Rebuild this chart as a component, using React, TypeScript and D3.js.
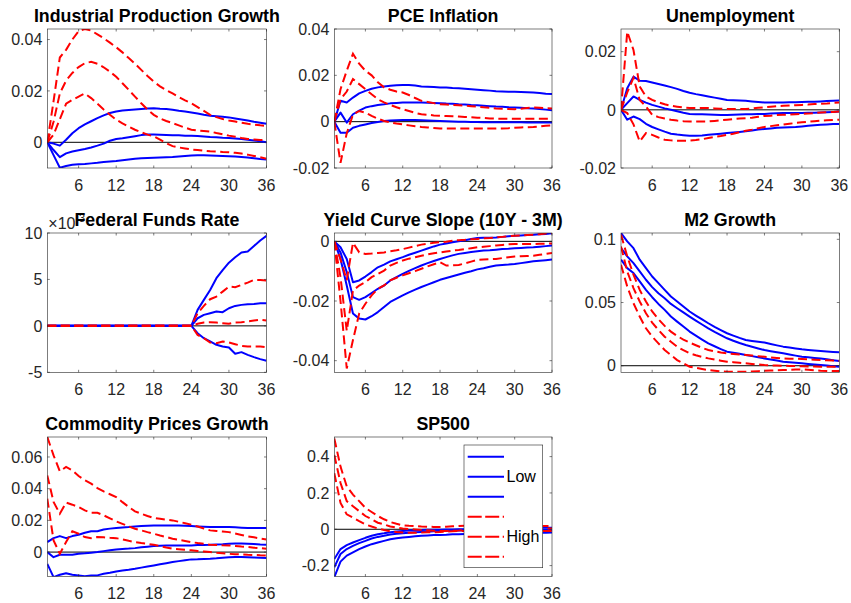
import React from "react";
import * as d3 from "d3";

// ---------- DATA ----------
const horizons = [1,2,3,4,5,6,7,8,9,10,11,12,13,14,15,16,17,18,19,20,21,22,23,24,25,26,27,28,29,30,31,32,33,34,35,36];
const xTicks = [6, 12, 18, 24, 30, 36];
const legendLabels = ["", "Low", "", "", "High", ""];

// Industrial Production Growth
const ipLowUpper = [0,-0.0005,-0.0013,0.001,0.0035,0.0055,0.007,0.0082,0.0094,0.0105,0.0114,0.012,0.0124,0.0126,0.0128,0.013,0.0132,0.0133,0.0131,0.013,0.0127,0.0123,0.012,0.0116,0.0112,0.0107,0.0103,0.0101,0.0099,0.0097,0.0093,0.0089,0.0085,0.008,0.0076,0.0072];
const ipLowMid = [0,-0.003,-0.0058,-0.0043,-0.0036,-0.0031,-0.0026,-0.002,-0.0013,-0.0005,0.0006,0.0013,0.0016,0.002,0.0024,0.0028,0.003,0.003,0.0029,0.0028,0.0027,0.0027,0.0026,0.0026,0.0025,0.0023,0.0021,0.002,0.0018,0.0017,0.0015,0.0013,0.001,0.0007,0.0004,0];
const ipLowLower = [0,-0.005,-0.0099,-0.0092,-0.0087,-0.0085,-0.0084,-0.0082,-0.008,-0.0077,-0.0075,-0.0073,-0.007,-0.0067,-0.0064,-0.0062,-0.0061,-0.006,-0.0059,-0.0058,-0.0057,-0.0055,-0.0053,-0.0051,-0.005,-0.005,-0.0051,-0.0052,-0.0053,-0.0054,-0.0055,-0.0057,-0.0059,-0.0062,-0.0065,-0.0067];
const ipHighUpper = [0,0.016,0.033,0.036,0.04,0.0433,0.0441,0.0435,0.042,0.0405,0.0388,0.037,0.035,0.0328,0.0306,0.0282,0.0258,0.0236,0.0218,0.0203,0.019,0.0176,0.0163,0.0152,0.0137,0.0122,0.0107,0.0098,0.0091,0.0085,0.0081,0.0076,0.0072,0.0069,0.0066,0.0064];
const ipHighMid = [0,0.008,0.019,0.024,0.027,0.0293,0.0308,0.0313,0.0306,0.0292,0.0275,0.0255,0.023,0.0204,0.0178,0.0152,0.0128,0.0107,0.0093,0.0083,0.0075,0.0066,0.0057,0.0049,0.0046,0.0044,0.0042,0.0036,0.0031,0.0026,0.0022,0.0017,0.0013,0.0011,0.0009,0.0008];
const ipHighLower = [0,0.003,0.009,0.015,0.0165,0.0178,0.019,0.0172,0.015,0.0128,0.0107,0.0088,0.0074,0.0061,0.0049,0.0039,0.003,0.0023,0.001,-0.0003,-0.0015,-0.002,-0.0024,-0.0028,-0.003,-0.0033,-0.0035,-0.0036,-0.0038,-0.0039,-0.0041,-0.0044,-0.0048,-0.0053,-0.0058,-0.0064];

// PCE Inflation
const pceLowUpper = [0,0.009,0.0083,0.0104,0.0122,0.0133,0.0142,0.0148,0.0152,0.0155,0.0157,0.0158,0.0158,0.0156,0.0152,0.0151,0.015,0.0148,0.0147,0.0145,0.0144,0.0142,0.014,0.0138,0.0136,0.0134,0.0131,0.013,0.0129,0.0129,0.0128,0.0127,0.0126,0.0124,0.0121,0.0119];
const pceLowMid = [0,0.0039,-0.0004,0.0032,0.0048,0.0061,0.0067,0.0072,0.0075,0.0079,0.0081,0.0083,0.0083,0.0083,0.0083,0.0082,0.0081,0.008,0.0078,0.0077,0.0075,0.0074,0.0072,0.0071,0.0069,0.0067,0.0065,0.0064,0.0062,0.0061,0.006,0.0058,0.0057,0.0055,0.0052,0.0049];
const pceLowLower = [0,-0.0048,-0.0048,-0.0026,-0.0018,-0.0012,-0.0006,-0.0001,0.0003,0.0005,0.0006,0.0007,0.0007,0.0007,0.0006,0.0005,0.0004,0.0003,0.0002,0.0001,0,0,-0.0001,-0.0001,-0.0002,-0.0002,-0.0003,-0.0003,-0.0003,-0.0003,-0.0003,-0.0004,-0.0004,-0.0004,-0.0004,-0.0004];
const pceHighUpper = [0,0.014,0.022,0.0293,0.025,0.022,0.02,0.017,0.0148,0.0138,0.013,0.0126,0.0115,0.0102,0.009,0.0085,0.008,0.0075,0.0074,0.0072,0.0071,0.0069,0.0067,0.0065,0.0062,0.006,0.0057,0.0056,0.0055,0.0054,0.0056,0.0059,0.0061,0.006,0.0058,0.0057];
const pceHighMid = [0,0.0097,0.013,0.0184,0.0162,0.014,0.0118,0.0097,0.0083,0.0072,0.0062,0.0054,0.0046,0.0038,0.0032,0.003,0.0027,0.0025,0.0024,0.0023,0.0022,0.002,0.0019,0.0017,0.0016,0.0014,0.0013,0.0013,0.0013,0.0013,0.0013,0.0013,0.0013,0.0013,0.0013,0.0013];
const pceHighLower = [0,-0.0178,-0.005,0.003,0.0046,0.0039,0.0025,0.0013,0.0003,-0.0003,-0.0008,-0.0012,-0.0016,-0.002,-0.0023,-0.0025,-0.0027,-0.0029,-0.003,-0.003,-0.003,-0.003,-0.003,-0.003,-0.003,-0.003,-0.003,-0.0029,-0.0028,-0.0026,-0.0025,-0.0024,-0.0023,-0.0021,-0.0018,-0.0016];

// Unemployment
const unLowUpper = [0,0.0074,0.0114,0.01,0.0099,0.0094,0.0089,0.0084,0.0078,0.0072,0.0065,0.0059,0.0054,0.005,0.0046,0.0042,0.0038,0.0034,0.0033,0.0032,0.0031,0.0029,0.0027,0.0025,0.0025,0.0025,0.0025,0.0026,0.0026,0.0027,0.0028,0.0028,0.0029,0.003,0.0031,0.0032];
const unLowMid = [0,0.0023,0.0046,0.0034,0.0025,0.0017,0.0011,0.0005,0,-0.0005,-0.001,-0.0014,-0.0015,-0.0015,-0.0016,-0.0017,-0.0018,-0.0018,-0.0017,-0.0016,-0.0015,-0.0015,-0.0014,-0.0014,-0.0013,-0.0012,-0.0011,-0.0011,-0.0011,-0.0011,-0.001,-0.001,-0.0009,-0.0008,-0.0007,-0.0006];
const unLowLower = [0,-0.0034,-0.0023,-0.0032,-0.0048,-0.0059,-0.0067,-0.0075,-0.0082,-0.0085,-0.0087,-0.0089,-0.0089,-0.0088,-0.0086,-0.0084,-0.0082,-0.008,-0.0078,-0.0076,-0.0074,-0.0071,-0.0068,-0.0066,-0.0064,-0.0062,-0.0061,-0.006,-0.0059,-0.0057,-0.0055,-0.0053,-0.0051,-0.005,-0.0049,-0.0049];
const unHighUpper = [0,0.0269,0.0206,0.008,0.0046,0.0034,0.0026,0.0019,0.0014,0.0011,0.0008,0.0006,0.0006,0.0006,0.0006,0.0005,0.0004,0.0003,0.0003,0.0003,0.0003,0.0005,0.0007,0.0009,0.0011,0.0013,0.0014,0.0015,0.0016,0.0017,0.0018,0.002,0.0021,0.0022,0.0024,0.0025];
const unHighMid = [0,0.006,0.011,0.0034,0.0011,-0.0017,-0.0025,-0.003,-0.0034,-0.0037,-0.0039,-0.004,-0.004,-0.004,-0.004,-0.0038,-0.0036,-0.0034,-0.0032,-0.003,-0.0029,-0.0027,-0.0024,-0.0021,-0.002,-0.0018,-0.0017,-0.0016,-0.0015,-0.0014,-0.0013,-0.0011,-0.0009,-0.0008,-0.0007,-0.0006];
const unHighLower = [0,-0.0011,-0.005,-0.0109,-0.008,-0.0086,-0.0095,-0.0103,-0.0105,-0.0106,-0.0106,-0.0106,-0.0104,-0.0101,-0.0097,-0.0093,-0.009,-0.0086,-0.0082,-0.0077,-0.0072,-0.0068,-0.0063,-0.0059,-0.0056,-0.0053,-0.0051,-0.0048,-0.0045,-0.0043,-0.0041,-0.0039,-0.0037,-0.0036,-0.0035,-0.0034];

// Federal Funds Rate
const ffrLowUpper = [0,0,0,0,0,0,0,0,0,0,0,0,0,0,0,0,0,0,0,0,0,0,0,0,0.00172,0.0028,0.00387,0.00513,0.006,0.0068,0.00738,0.0079,0.008,0.0086,0.0092,0.0097];
const ffrLowMid = [0,0,0,0,0,0,0,0,0,0,0,0,0,0,0,0,0,0,0,0,0,0,0,0,0.00082,0.00118,0.00136,0.00154,0.00147,0.0019,0.00215,0.00226,0.00233,0.00236,0.00244,0.00244];
const ffrLowLower = [0,0,0,0,0,0,0,0,0,0,0,0,0,0,0,0,0,0,0,0,0,0,0,0,-0.00079,-0.00133,-0.00168,-0.00204,-0.00222,-0.00233,-0.003,-0.00283,-0.00312,-0.00337,-0.00358,-0.00376];
const ffrHighUpper = [0,0,0,0,0,0,0,0,0,0,0,0,0,0,0,0,0,0,0,0,0,0,0,0,0.00136,0.00215,0.00287,0.00315,0.00369,0.00423,0.00416,0.00441,0.00466,0.00495,0.00495,0.00487];
const ffrHighMid = [0,0,0,0,0,0,0,0,0,0,0,0,0,0,0,0,0,0,0,0,0,0,0,0,0.00022,0.00036,0.00039,0.00036,0.00029,0.00022,0.00036,0.00039,0.00047,0.00057,0.00065,0.00057];
const ffrHighLower = [0,0,0,0,0,0,0,0,0,0,0,0,0,0,0,0,0,0,0,0,0,0,0,0,-0.00097,-0.00133,-0.00179,-0.00186,-0.00168,-0.00179,-0.00197,-0.00215,-0.00222,-0.00222,-0.00222,-0.00229];

// Yield Curve Slope
const ycLowUpper = [0,-0.002,-0.0059,-0.0137,-0.0131,-0.0118,-0.0103,-0.0087,-0.0078,-0.0067,-0.006,-0.0053,-0.0045,-0.0038,-0.0031,-0.0024,-0.0017,-0.0011,-0.0007,-0.0003,0,0.0004,0.0008,0.0011,0.0012,0.0012,0.0013,0.0015,0.0017,0.0019,0.002,0.0021,0.0022,0.0024,0.0025,0.0027];
const ycLowMid = [0,-0.0037,-0.0103,-0.0187,-0.0196,-0.0187,-0.0173,-0.0159,-0.0148,-0.0131,-0.012,-0.0109,-0.0099,-0.009,-0.0081,-0.0073,-0.0066,-0.0059,-0.0053,-0.0047,-0.0042,-0.0039,-0.0036,-0.0033,-0.0031,-0.003,-0.0028,-0.0026,-0.0025,-0.0023,-0.0022,-0.0021,-0.002,-0.0018,-0.0016,-0.0014];
const ycLowLower = [0,-0.0059,-0.0148,-0.0242,-0.0259,-0.0262,-0.0251,-0.0237,-0.022,-0.0203,-0.0192,-0.0181,-0.0171,-0.0162,-0.0153,-0.0145,-0.0137,-0.0129,-0.0123,-0.0117,-0.0111,-0.0105,-0.01,-0.0094,-0.009,-0.0085,-0.0081,-0.0079,-0.0078,-0.0076,-0.0073,-0.007,-0.0067,-0.0065,-0.0063,-0.0061];
const ycHighUpper = [0,-0.006,-0.013,-0.0005,-0.0037,-0.0042,-0.0041,-0.0039,-0.0037,-0.0033,-0.003,-0.0026,-0.0021,-0.0016,-0.0011,-0.0008,-0.0005,-0.0003,-0.0001,0.0002,0.0004,0.0005,0.0007,0.0008,0.001,0.0011,0.0013,0.0015,0.0017,0.0019,0.002,0.0021,0.0022,0.0024,0.0026,0.0027];
const ycHighMid = [0,-0.012,-0.03,-0.0165,-0.0148,-0.0137,-0.012,-0.0109,-0.0098,-0.0081,-0.0072,-0.0064,-0.0058,-0.0053,-0.0048,-0.0044,-0.004,-0.0037,-0.0034,-0.0031,-0.0029,-0.0026,-0.0023,-0.002,-0.0018,-0.0016,-0.0014,-0.0012,-0.001,-0.0009,-0.0009,-0.0009,-0.0009,-0.0008,-0.0008,-0.0007];
const ycHighLower = [0,-0.02,-0.0426,-0.0331,-0.0242,-0.0209,-0.0181,-0.0159,-0.0148,-0.0131,-0.0122,-0.0114,-0.0107,-0.01,-0.0092,-0.0084,-0.0077,-0.007,-0.0081,-0.008,-0.0079,-0.0074,-0.0068,-0.0062,-0.0061,-0.006,-0.0059,-0.0056,-0.0053,-0.0051,-0.005,-0.0049,-0.0048,-0.0045,-0.0042,-0.0039];

// M2 Growth
const m2LowUpper = [0.105,0.0984,0.093,0.0839,0.0772,0.0706,0.0653,0.06,0.0548,0.0508,0.0468,0.0429,0.0397,0.0366,0.0336,0.0308,0.0282,0.0257,0.0238,0.022,0.0204,0.0196,0.0189,0.0183,0.0172,0.0161,0.0151,0.0144,0.0137,0.013,0.0125,0.012,0.0116,0.0113,0.0109,0.0106];
const m2LowMid = [0.0931,0.0865,0.0812,0.0746,0.068,0.0622,0.0574,0.0534,0.0489,0.0455,0.0422,0.0389,0.0357,0.0326,0.0296,0.0268,0.0242,0.0217,0.0198,0.018,0.0164,0.015,0.0137,0.0124,0.0115,0.0106,0.0098,0.0089,0.008,0.0071,0.0067,0.0062,0.0058,0.0051,0.0044,0.0037];
const m2LowLower = [0.0839,0.0772,0.0733,0.0667,0.06,0.0542,0.0489,0.0442,0.0389,0.0349,0.031,0.027,0.0238,0.0207,0.0177,0.0154,0.0132,0.0111,0.0102,0.0094,0.0085,0.0076,0.0067,0.0058,0.0049,0.0041,0.0032,0.0028,0.0023,0.0019,0.0014,0.001,0.0005,0.0001,-0.0004,-0.0008];
const m2HighUpper = [0.1037,0.0865,0.072,0.06,0.0508,0.0429,0.0368,0.0315,0.027,0.0235,0.0207,0.0183,0.0162,0.0142,0.0124,0.0114,0.0105,0.0098,0.0093,0.0089,0.0085,0.008,0.0075,0.0071,0.0066,0.0062,0.0058,0.0056,0.0055,0.0053,0.005,0.0048,0.0045,0.0043,0.0041,0.004];
const m2HighMid = [0.0944,0.0746,0.0614,0.0508,0.0415,0.0341,0.0283,0.023,0.019,0.0151,0.0123,0.0098,0.0083,0.007,0.0058,0.0049,0.004,0.0032,0.0028,0.0023,0.0019,0.0014,0.001,0.0005,0.0003,0.0002,0,-0.0002,-0.0003,-0.0005,-0.0006,-0.0007,-0.0008,-0.0008,-0.0008,-0.0008];
const m2HighLower = [0.0799,0.0627,0.0495,0.0389,0.0296,0.023,0.0177,0.0124,0.0085,0.0045,0.0019,-0.0008,-0.0017,-0.0026,-0.0034,-0.0039,-0.0044,-0.0048,-0.0048,-0.0048,-0.0048,-0.0046,-0.0043,-0.004,-0.0038,-0.0036,-0.0034,-0.0032,-0.003,-0.0029,-0.0032,-0.0036,-0.004,-0.0041,-0.0042,-0.0042];

// Commodity Prices Growth
const cpLowUpper = [0.0063,0.0088,0.0101,0.0088,0.0101,0.0109,0.0122,0.0131,0.0131,0.0143,0.0148,0.0152,0.0155,0.0158,0.0162,0.0164,0.0166,0.0168,0.0168,0.0168,0.0168,0.0167,0.0166,0.0164,0.0162,0.016,0.0158,0.0158,0.0158,0.0158,0.0156,0.0154,0.0152,0.0152,0.0152,0.0152];
const cpLowMid = [0,-0.0032,-0.0017,-0.0017,-0.0017,-0.0011,-0.0008,-0.0004,0,0.0006,0.0012,0.0017,0.002,0.0022,0.0025,0.003,0.0034,0.0038,0.004,0.0041,0.0042,0.0042,0.0042,0.0042,0.0044,0.0045,0.0046,0.0048,0.005,0.0053,0.0054,0.0054,0.0053,0.0051,0.0048,0.0046];
const cpLowLower = [-0.0074,-0.0158,-0.0143,-0.0133,-0.0143,-0.0147,-0.0152,-0.0147,-0.0147,-0.0137,-0.013,-0.0122,-0.0116,-0.0111,-0.0105,-0.0098,-0.0091,-0.0084,-0.0077,-0.007,-0.0063,-0.0057,-0.0051,-0.0046,-0.0045,-0.0043,-0.0042,-0.0039,-0.0035,-0.0032,-0.0031,-0.0031,-0.0032,-0.0034,-0.0036,-0.0038];
const cpHighUpper = [0.0726,0.061,0.051,0.0537,0.0516,0.048,0.0453,0.0432,0.0404,0.0383,0.0365,0.0347,0.0315,0.0285,0.0257,0.0242,0.0228,0.0215,0.021,0.0205,0.02,0.0191,0.0182,0.0173,0.0161,0.0149,0.0137,0.0133,0.013,0.0126,0.0117,0.0108,0.0099,0.0093,0.0086,0.008];
const cpHighMid = [0.0484,0.0316,0.0242,0.0312,0.0299,0.0284,0.0263,0.0248,0.0248,0.0232,0.0213,0.0194,0.0178,0.0162,0.0147,0.0137,0.0126,0.0116,0.0105,0.0095,0.0084,0.0077,0.007,0.0063,0.0057,0.0052,0.0046,0.0045,0.0043,0.0042,0.0039,0.0035,0.0032,0.0028,0.0025,0.0021];
const cpHighLower = [0.0337,0.0074,-0.0011,0.0063,0.0131,0.0116,0.0095,0.0088,0.0095,0.0093,0.009,0.0088,0.008,0.0071,0.0063,0.0057,0.0052,0.0046,0.0038,0.0029,0.0021,0.0018,0.0014,0.0011,0.0007,0.0004,0,-0.0004,-0.0007,-0.0011,-0.0013,-0.0015,-0.0017,-0.0018,-0.002,-0.0021];

// SP500
const spLowUpper = [-0.164,-0.109,-0.087,-0.073,-0.06,-0.047,-0.036,-0.027,-0.022,-0.016,-0.012,-0.009,-0.007,-0.005,-0.004,-0.003,-0.002,-0.002,-0.001,-0.001,0,0,0.001,0.002,0.002,0.003,0.004,0.004,0.005,0.006,0.006,0.007,0.008,0.008,0.009,0.009];
const spLowMid = [-0.209,-0.136,-0.109,-0.091,-0.076,-0.064,-0.051,-0.042,-0.036,-0.029,-0.025,-0.022,-0.019,-0.017,-0.015,-0.013,-0.011,-0.009,-0.008,-0.008,-0.007,-0.006,-0.006,-0.005,-0.005,-0.004,-0.004,-0.004,-0.003,-0.003,-0.003,-0.003,-0.003,-0.004,-0.004,-0.004];
const spLowLower = [-0.264,-0.178,-0.145,-0.127,-0.109,-0.095,-0.082,-0.073,-0.064,-0.055,-0.05,-0.045,-0.042,-0.039,-0.036,-0.034,-0.032,-0.031,-0.03,-0.028,-0.027,-0.026,-0.026,-0.025,-0.024,-0.024,-0.023,-0.022,-0.022,-0.021,-0.021,-0.02,-0.02,-0.019,-0.019,-0.018];
const spHighUpper = [0.5,0.345,0.236,0.191,0.155,0.118,0.095,0.073,0.055,0.04,0.03,0.022,0.019,0.017,0.015,0.014,0.013,0.013,0.014,0.016,0.018,0.019,0.02,0.02,0.02,0.02,0.02,0.02,0.02,0.02,0.019,0.019,0.019,0.018,0.018,0.018];
const spHighMid = [0.409,0.255,0.155,0.127,0.1,0.073,0.055,0.036,0.027,0.015,0.009,0.004,0.001,-0.001,-0.004,-0.006,-0.008,-0.009,-0.009,-0.008,-0.007,-0.005,-0.003,-0.001,0,0.001,0.002,0.003,0.003,0.004,0.004,0.004,0.004,0.004,0.004,0.004];
const spHighLower = [0.309,0.145,0.082,0.064,0.045,0.027,0.015,0.004,-0.004,-0.011,-0.015,-0.018,-0.019,-0.019,-0.018,-0.017,-0.016,-0.015,-0.013,-0.011,-0.009,-0.009,-0.009,-0.009,-0.009,-0.009,-0.009,-0.009,-0.009,-0.009,-0.009,-0.009,-0.009,-0.009,-0.009,-0.009];

// ---------- PANELS ----------
type Panel = {
  title: string;
  low: number[][];
  high: number[][];
  yDomain: [number, number];
  yTicks: number[];
  yScaleFactor?: number;
  exponent?: string;
  legend?: boolean;
};

const panels: Panel[] = [
  { title: "Industrial Production Growth", low: [ipLowUpper, ipLowMid, ipLowLower], high: [ipHighUpper, ipHighMid, ipHighLower], yDomain: [-0.01, 0.0441], yTicks: [0, 0.02, 0.04] },
  { title: "PCE Inflation", low: [pceLowUpper, pceLowMid, pceLowLower], high: [pceHighUpper, pceHighMid, pceHighLower], yDomain: [-0.02, 0.04], yTicks: [-0.02, 0, 0.02, 0.04] },
  { title: "Unemployment", low: [unLowUpper, unLowMid, unLowLower], high: [unHighUpper, unHighMid, unHighLower], yDomain: [-0.02, 0.0278], yTicks: [-0.02, 0, 0.02] },
  { title: "Federal Funds Rate", low: [ffrLowUpper, ffrLowMid, ffrLowLower], high: [ffrHighUpper, ffrHighMid, ffrHighLower], yDomain: [-0.005, 0.01], yTicks: [-0.005, 0, 0.005, 0.01], yScaleFactor: 1000, exponent: "-3" },
  { title: "Yield Curve Slope (10Y - 3M)", low: [ycLowUpper, ycLowMid, ycLowLower], high: [ycHighUpper, ycHighMid, ycHighLower], yDomain: [-0.0439, 0.0028], yTicks: [-0.04, -0.02, 0] },
  { title: "M2 Growth", low: [m2LowUpper, m2LowMid, m2LowLower], high: [m2HighUpper, m2HighMid, m2HighLower], yDomain: [-0.0052, 0.105], yTicks: [0, 0.05, 0.1] },
  { title: "Commodity Prices Growth", low: [cpLowUpper, cpLowMid, cpLowLower], high: [cpHighUpper, cpHighMid, cpHighLower], yDomain: [-0.0154, 0.0726], yTicks: [0, 0.02, 0.04, 0.06] },
  { title: "SP500", low: [spLowUpper, spLowMid, spLowLower], high: [spHighUpper, spHighMid, spHighLower], yDomain: [-0.26, 0.508], yTicks: [-0.2, 0, 0.2, 0.4], legend: true },
];

// layout
const W = 851, H = 603;
const colX: [number, number][] = [[47.3, 266.5], [334.3, 552], [621, 839.3]];
const rowY: [number, number][] = [[29, 168], [233, 372.3], [437, 576.5]];

const BLUE = "#0000ff";
const RED = "#ff0000";
const AXIS = "#262626";
const FONT = "'Liberation Sans', Arial, Helvetica, sans-serif";
const TICK_FS = 16;

function fmt(v: number, factor?: number) {
  const val = factor ? v * factor : v;
  const r = Math.round(val * 1e6) / 1e6;
  return String(r);
}

function PanelView({ p, idx }: { p: Panel; idx: number }) {
  const [x0, x1] = colX[idx % 3];
  const [y0, y1] = rowY[Math.floor(idx / 3)];
  const x = d3.scaleLinear().domain([1, 36]).range([x0, x1]);
  const y = d3.scaleLinear().domain(p.yDomain).range([y1, y0]);
  const line = d3.line<number>().x((_, i) => x(horizons[i])).y((d) => y(d));
  const clipId = `clip${idx}`;
  const tl = 2.5;
  return (
    <g>
      <defs>
        <clipPath id={clipId}>
          <rect x={x0} y={y0} width={x1 - x0} height={y1 - y0} />
        </clipPath>
      </defs>
      <rect x={x0} y={y0} width={x1 - x0} height={y1 - y0} fill="#fff" />
      <g clipPath={`url(#${clipId})`}>
        <line x1={x(1)} x2={x(36)} y1={y(0)} y2={y(0)} stroke="#000" strokeWidth={1} />
        {p.low.map((s, i) => (
          <path key={"l" + i} d={line(s) || ""} fill="none" stroke={BLUE} strokeWidth={2} strokeLinejoin="round" />
        ))}
        {p.high.map((s, i) => (
          <path key={"h" + i} d={line(s) || ""} fill="none" stroke={RED} strokeWidth={2} strokeDasharray="9,4.5" />
        ))}
      </g>
      <rect x={x0} y={y0} width={x1 - x0} height={y1 - y0} fill="none" stroke={AXIS} strokeWidth={0.6} />
      {xTicks.map((t) => (
        <g key={"xt" + t}>
          <line x1={x(t)} x2={x(t)} y1={y1} y2={y1 - tl} stroke={AXIS} strokeWidth={0.6} />
          <line x1={x(t)} x2={x(t)} y1={y0} y2={y0 + tl} stroke={AXIS} strokeWidth={0.6} />
          <text x={x(t)} y={y1 + 22.5} textAnchor="middle" fontSize={TICK_FS} fill={AXIS} fontFamily={FONT}>{t}</text>
        </g>
      ))}
      {p.yTicks.map((t) => (
        <g key={"yt" + t}>
          <line x1={x0} x2={x0 + tl} y1={y(t)} y2={y(t)} stroke={AXIS} strokeWidth={0.6} />
          <line x1={x1} x2={x1 - tl} y1={y(t)} y2={y(t)} stroke={AXIS} strokeWidth={0.6} />
          <text x={x0 - 5} y={y(t)} dy="0.36em" textAnchor="end" fontSize={TICK_FS} fill={AXIS} fontFamily={FONT}>{fmt(t, p.yScaleFactor)}</text>
        </g>
      ))}
      {p.exponent && (
        <text x={x0 + 1} y={y0 - 4} fontSize={TICK_FS} fill={AXIS} fontFamily={FONT}>
          ×10<tspan fontSize={11} dy={-7}>{p.exponent}</tspan>
        </text>
      )}
      <text x={(x0 + x1) / 2} y={y0 - 7} textAnchor="middle" fontSize={17.8} fontWeight="bold" fill="#000" fontFamily={FONT}>{p.title}</text>
      {p.legend && <Legend />}
    </g>
  );
}

function Legend() {
  const lx0 = 464, lx1 = 542.7, ly0 = 445, ly1 = 567.7;
  const rowsY = d3.scaleLinear().domain([0, 5]).range([456.7, 556.7]);
  return (
    <g>
      <rect x={lx0} y={ly0} width={lx1 - lx0} height={ly1 - ly0} fill="#fff" stroke={AXIS} strokeWidth={0.6} />
      {legendLabels.map((lab, i) => (
        <g key={"lg" + i}>
          <line x1={467.7} x2={504} y1={rowsY(i)} y2={rowsY(i)} stroke={i < 3 ? BLUE : RED} strokeWidth={2}
            strokeDasharray={i < 3 ? undefined : "14,3.5"} />
          {lab && (
            <text x={506.5} y={rowsY(i)} dy="0.36em" fontSize={TICK_FS} fill="#000" fontFamily={FONT}>{lab}</text>
          )}
        </g>
      ))}
    </g>
  );
}

export default function App() {
  return (
    <svg width={W} height={H} style={{ position: "absolute", left: 0, top: 0, background: "#fff" }}>
      <rect x={0} y={0} width={W} height={H} fill="#fff" />
      {panels.map((p, i) => (
        <PanelView key={i} p={p} idx={i} />
      ))}
    </svg>
  );
}
